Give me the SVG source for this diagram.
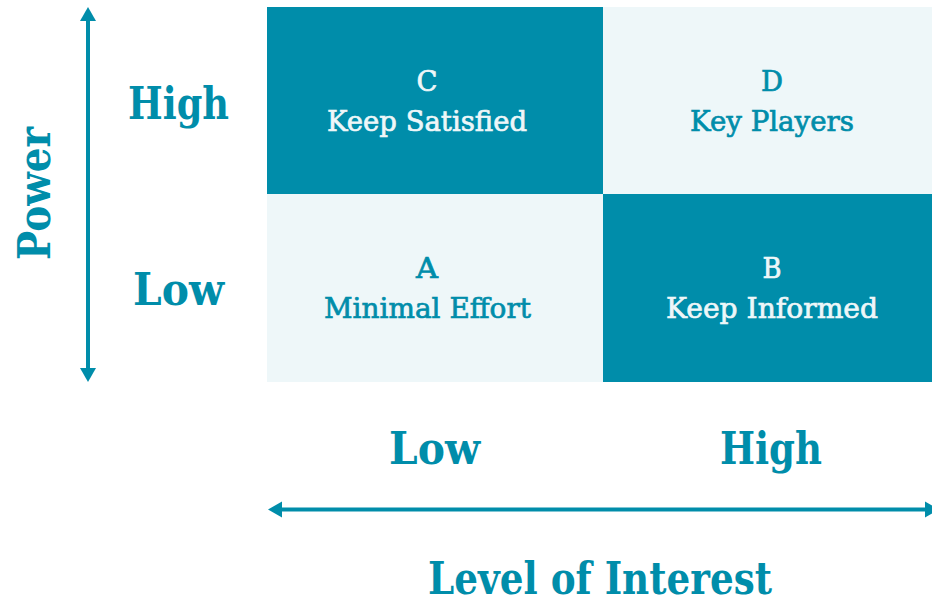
<svg xmlns="http://www.w3.org/2000/svg" width="932" height="600" viewBox="0 0 932 600">
<style>
.dark{fill:#008DAA}
.light{fill:#EEF7F9}
.t{font-family:"DejaVu Serif","Liberation Serif",serif;text-anchor:middle}
.q{font-size:28px;stroke-width:0.7px}
.ondark{fill:#EEF7F9;stroke:#EEF7F9}
.onlight{fill:#008DAA;stroke:#008DAA}
.ax{font-size:44px;font-weight:bold;fill:#008DAA}
.axs{stroke:#008DAA;stroke-width:4;fill:none}
.ah{fill:#008DAA}
</style>
<rect width="932" height="600" fill="#FFFFFF"/>
<g id="quadrant-c">
<rect class="dark" x="267" y="7" width="336" height="187"/>
<text class="t q ondark" x="427" y="91" textLength="21" lengthAdjust="spacingAndGlyphs">C</text>
<text class="t q ondark" x="427" y="131" textLength="200" lengthAdjust="spacingAndGlyphs">Keep Satisfied</text>
</g>
<g id="quadrant-d">
<rect class="light" x="603" y="7" width="329" height="187"/>
<text class="t q onlight" x="772" y="91" textLength="22" lengthAdjust="spacingAndGlyphs">D</text>
<text class="t q onlight" x="772" y="131" textLength="164" lengthAdjust="spacingAndGlyphs">Key Players</text>
</g>
<g id="quadrant-a">
<rect class="light" x="267" y="194" width="336" height="188"/>
<text class="t q onlight" x="427" y="278" textLength="22" lengthAdjust="spacingAndGlyphs">A</text>
<text class="t q onlight" x="427.5" y="318" textLength="207" lengthAdjust="spacingAndGlyphs">Minimal Effort</text>
</g>
<g id="quadrant-b">
<rect class="dark" x="603" y="194" width="329" height="188"/>
<text class="t q ondark" x="772" y="278" textLength="19" lengthAdjust="spacingAndGlyphs">B</text>
<text class="t q ondark" x="772" y="318" textLength="212" lengthAdjust="spacingAndGlyphs">Keep Informed</text>
</g>
<g id="axis-labels">
<text class="t ax" x="178.5" y="119" textLength="101" lengthAdjust="spacingAndGlyphs">High</text>
<text class="t ax" x="178.5" y="305" textLength="91" lengthAdjust="spacingAndGlyphs">Low</text>
<text class="t ax" x="434.5" y="464" textLength="91" lengthAdjust="spacingAndGlyphs">Low</text>
<text class="t ax" x="771" y="464" textLength="102" lengthAdjust="spacingAndGlyphs">High</text>
<text class="t ax" x="600" y="594" textLength="344" lengthAdjust="spacingAndGlyphs">Level of Interest</text>
<text class="t ax" transform="translate(50 193.5) rotate(-90)" x="0" y="0" textLength="133" lengthAdjust="spacingAndGlyphs">Power</text>
</g>
<g id="connectors">
<line class="axs" x1="88" y1="18" x2="88" y2="370"/>
<polygon class="ah" points="88,7 80,21 96,21"/>
<polygon class="ah" points="88,382 80,368 96,368"/>
<line class="axs" x1="280" y1="509.5" x2="926" y2="509.5"/>
<polygon class="ah" points="268,509.5 282,501.5 282,517.5"/>
<polygon class="ah" points="939,509.5 925,501.5 925,517.5"/>
</g>
</svg>
